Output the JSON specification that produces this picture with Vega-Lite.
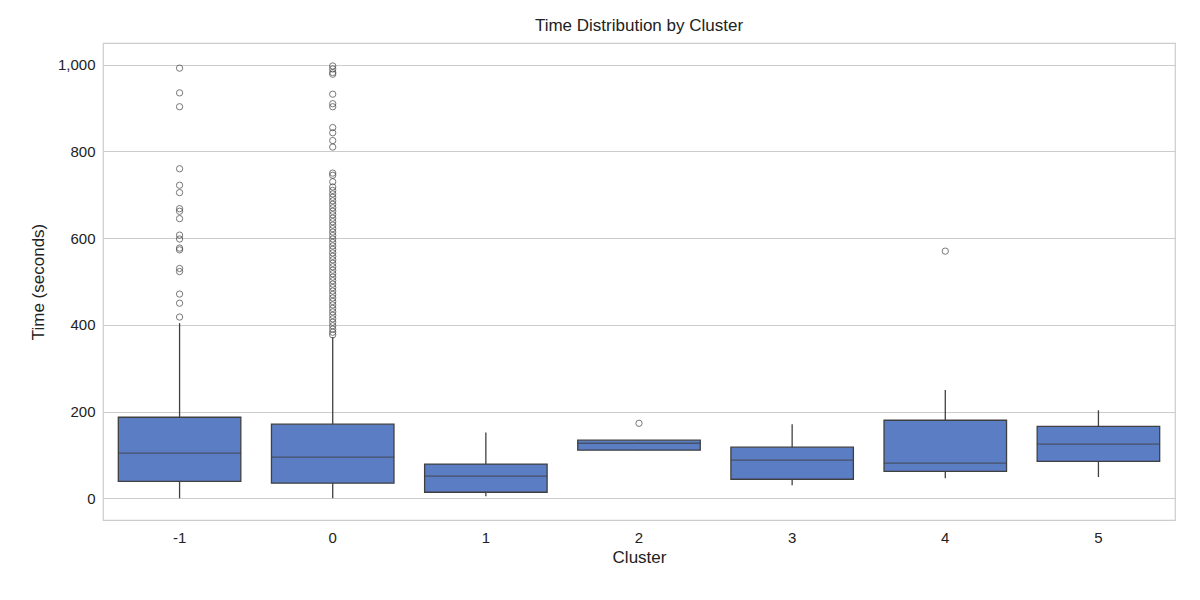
{
"$schema":"https://vega.github.io/schema/vega-lite/v6.json",
"width":1072,"height":477,
"autosize":{"type":"none"},
"padding":{"left":103,"top":43,"right":25,"bottom":80},
"title":{"text":"Time Distribution by Cluster","font":"Liberation Sans","fontSize":17,"fontWeight":"normal","color":"#222","offset":8},
"config":{"view":{"stroke":"#cccccc","strokeWidth":1.2},"axis":{"labelFont":"Liberation Sans","titleFont":"Liberation Sans","labelFontSize":15,"titleFontSize":17,"titleFontWeight":"normal","labelColor":"#222","titleColor":"#222","domain":false,"ticks":false}},
"datasets":{
"boxes":[
{"Cluster":"-1","lower":0,"q1":39,"median":104,"q3":187,"upper":404},
{"Cluster":"0","lower":0,"q1":35,"median":95,"q3":171,"upper":372},
{"Cluster":"1","lower":5,"q1":14,"median":51,"q3":79,"upper":152},
{"Cluster":"2","lower":111,"q1":111,"median":127,"q3":134,"upper":134},
{"Cluster":"3","lower":30,"q1":44,"median":88,"q3":118,"upper":171},
{"Cluster":"4","lower":46,"q1":62,"median":81,"q3":180,"upper":250},
{"Cluster":"5","lower":49,"q1":85,"median":125,"q3":166,"upper":203}
],
"outliers":[
{"Cluster":"-1","Time":992},{"Cluster":"-1","Time":935},{"Cluster":"-1","Time":903},{"Cluster":"-1","Time":760},{"Cluster":"-1","Time":722},{"Cluster":"-1","Time":705},{"Cluster":"-1","Time":668},{"Cluster":"-1","Time":662},{"Cluster":"-1","Time":645},{"Cluster":"-1","Time":607},{"Cluster":"-1","Time":598},{"Cluster":"-1","Time":577},{"Cluster":"-1","Time":573},{"Cluster":"-1","Time":530},{"Cluster":"-1","Time":523},{"Cluster":"-1","Time":471},{"Cluster":"-1","Time":450},{"Cluster":"-1","Time":418},
{"Cluster":"0","Time":997},{"Cluster":"0","Time":990},{"Cluster":"0","Time":982},{"Cluster":"0","Time":978},{"Cluster":"0","Time":932},{"Cluster":"0","Time":910},{"Cluster":"0","Time":903},{"Cluster":"0","Time":855},{"Cluster":"0","Time":843},{"Cluster":"0","Time":825},{"Cluster":"0","Time":810},{"Cluster":"0","Time":750},{"Cluster":"0","Time":745},{"Cluster":"0","Time":730},{"Cluster":"0","Time":718},{"Cluster":"0","Time":710},{"Cluster":"0","Time":702},{"Cluster":"0","Time":694},{"Cluster":"0","Time":686},{"Cluster":"0","Time":678},{"Cluster":"0","Time":670},{"Cluster":"0","Time":662},{"Cluster":"0","Time":654},{"Cluster":"0","Time":646},{"Cluster":"0","Time":638},{"Cluster":"0","Time":630},{"Cluster":"0","Time":622},{"Cluster":"0","Time":614},{"Cluster":"0","Time":606},{"Cluster":"0","Time":598},{"Cluster":"0","Time":590},{"Cluster":"0","Time":582},{"Cluster":"0","Time":574},{"Cluster":"0","Time":566},{"Cluster":"0","Time":558},{"Cluster":"0","Time":550},{"Cluster":"0","Time":542},{"Cluster":"0","Time":534},{"Cluster":"0","Time":526},{"Cluster":"0","Time":518},{"Cluster":"0","Time":510},{"Cluster":"0","Time":502},{"Cluster":"0","Time":494},{"Cluster":"0","Time":486},{"Cluster":"0","Time":478},{"Cluster":"0","Time":470},{"Cluster":"0","Time":462},{"Cluster":"0","Time":454},{"Cluster":"0","Time":446},{"Cluster":"0","Time":438},{"Cluster":"0","Time":430},{"Cluster":"0","Time":422},{"Cluster":"0","Time":414},{"Cluster":"0","Time":406},{"Cluster":"0","Time":398},{"Cluster":"0","Time":390},{"Cluster":"0","Time":383},{"Cluster":"0","Time":377},
{"Cluster":"2","Time":173},
{"Cluster":"4","Time":570}
]},
"layer":[
{"data":{"name":"boxes"},"mark":{"type":"rule","color":"#404040","strokeWidth":1.3},
 "encoding":{"x":{"field":"Cluster","type":"ordinal","sort":["-1","0","1","2","3","4","5"],"title":"Cluster","axis":{"labelAngle":0,"grid":false,"labelPadding":10,"titlePadding":4}},
 "y":{"field":"lower","type":"quantitative","scale":{"domain":[-50,1050],"nice":false},"axis":{"values":[0,200,400,600,800,1000],"grid":true,"gridColor":"#cccccc","gridWidth":1.1,"labelPadding":8,"titlePadding":10},"title":"Time (seconds)"},
 "y2":{"field":"upper"}}},
{"data":{"name":"boxes"},"mark":{"type":"bar","color":"#5a7dc4","stroke":"#404040","strokeWidth":1.3,"width":{"band":0.8}},
 "encoding":{"x":{"field":"Cluster","type":"ordinal","sort":["-1","0","1","2","3","4","5"]},"y":{"field":"q1","type":"quantitative"},"y2":{"field":"q3"}}},
{"data":{"name":"boxes"},"mark":{"type":"tick","color":"#404040","size":123,"thickness":1.3},
 "encoding":{"x":{"field":"Cluster","type":"ordinal","sort":["-1","0","1","2","3","4","5"]},"y":{"field":"median","type":"quantitative"}}},
{"data":{"name":"outliers"},"mark":{"type":"point","shape":"circle","filled":false,"color":"#404040","size":40,"strokeWidth":1},
 "encoding":{"x":{"field":"Cluster","type":"ordinal","sort":["-1","0","1","2","3","4","5"]},"y":{"field":"Time","type":"quantitative"}}}
]
}
